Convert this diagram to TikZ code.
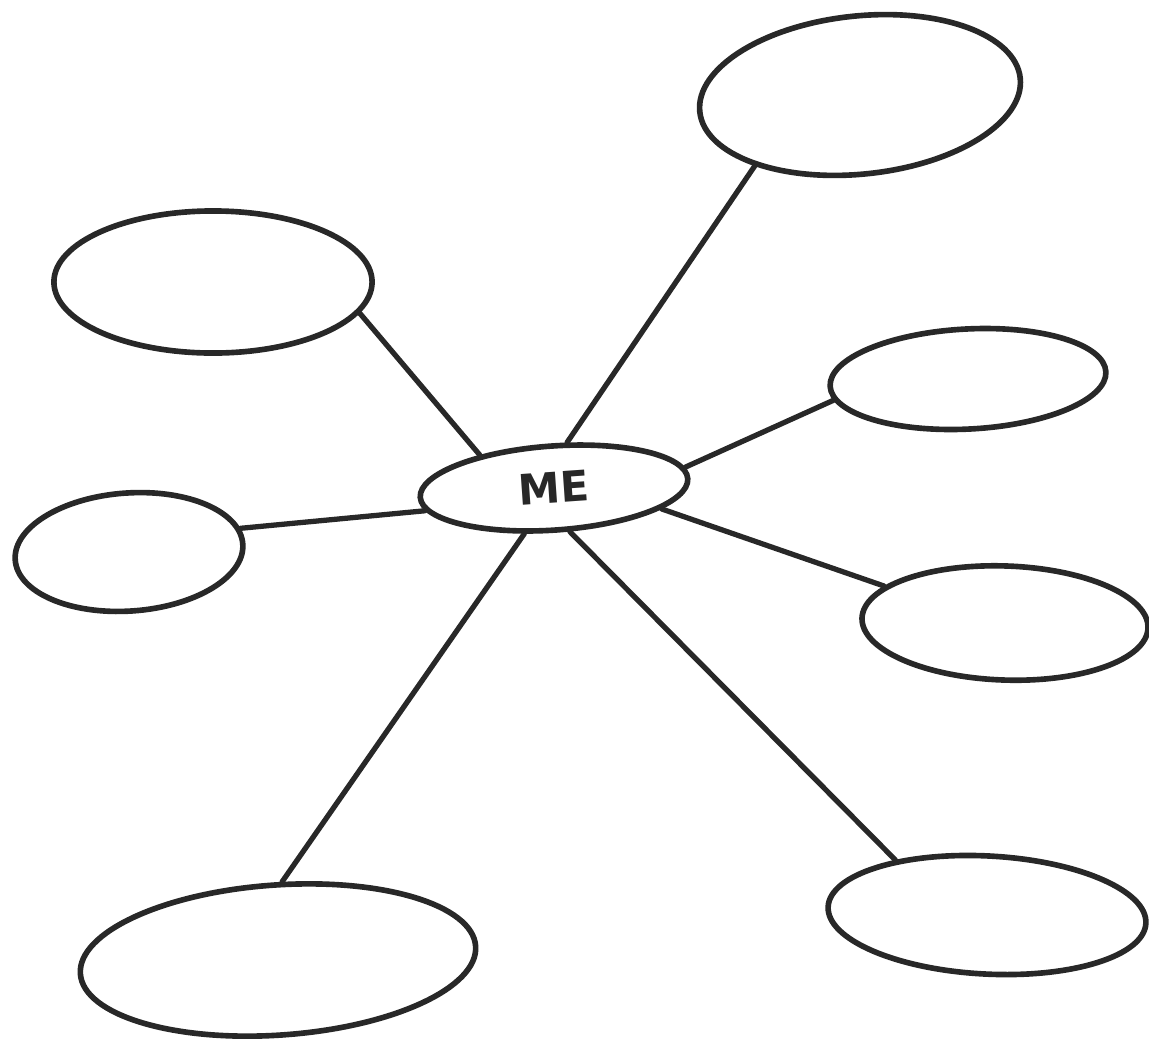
\documentclass[tikz,border=0pt]{standalone}
\usepackage{fontspec}
\setsansfont{DejaVu Sans}
\usetikzlibrary{shapes.geometric}

\definecolor{pen}{RGB}{40,40,40}

\tikzset{
  blob/.style={draw=pen, line width=1.6pt, ellipse, inner sep=0pt},
  hub/.style={blob, font=\sffamily\bfseries\fontsize{12}{12}\selectfont, text=pen},
  spoke/.style={draw=pen, line width=1.5pt, line cap=round}
}

\begin{document}
\begin{tikzpicture}[x=0.01cm, y=-0.01cm]
  \useasboundingbox (0,0) rectangle (1149,1042);

  % Central bubble
  \node[hub, minimum width=2.68cm, minimum height=0.84cm, rotate=4] (me) at (554,488) {ME};

  % Outer bubbles (empty)
  \node[blob, minimum width=3.22cm, minimum height=1.58cm, rotate=6] (topright) at (860,95) {};
  \node[blob, minimum width=3.18cm, minimum height=1.42cm] (upleft) at (213,282) {};
  \node[blob, minimum width=2.76cm, minimum height=1.00cm, rotate=3] (midright) at (968,379) {};
  \node[blob, minimum width=2.28cm, minimum height=1.18cm, rotate=4] (left) at (129,552) {};
  \node[blob, minimum width=2.86cm, minimum height=1.14cm, rotate=-2] (lowright) at (1005,623) {};
  \node[blob, minimum width=3.96cm, minimum height=1.50cm, rotate=4] (botleft) at (278,960) {};
  \node[blob, minimum width=3.18cm, minimum height=1.18cm, rotate=-3] (botright) at (987,915) {};

  % Spokes from ME to each bubble
  \draw[spoke] (me.70) -- (topright.208);
  \draw[spoke] (me.152) -- (upleft.348);
  \draw[spoke] (me.5) -- (midright.186);
  \draw[spoke] (me.186) -- (left.8);
  \draw[spoke] (me.345) -- (lowright.165);
  \draw[spoke] (me.233) -- (botleft.83);
  \draw[spoke] (me.286) -- (botright.152);
\end{tikzpicture}
\end{document}
